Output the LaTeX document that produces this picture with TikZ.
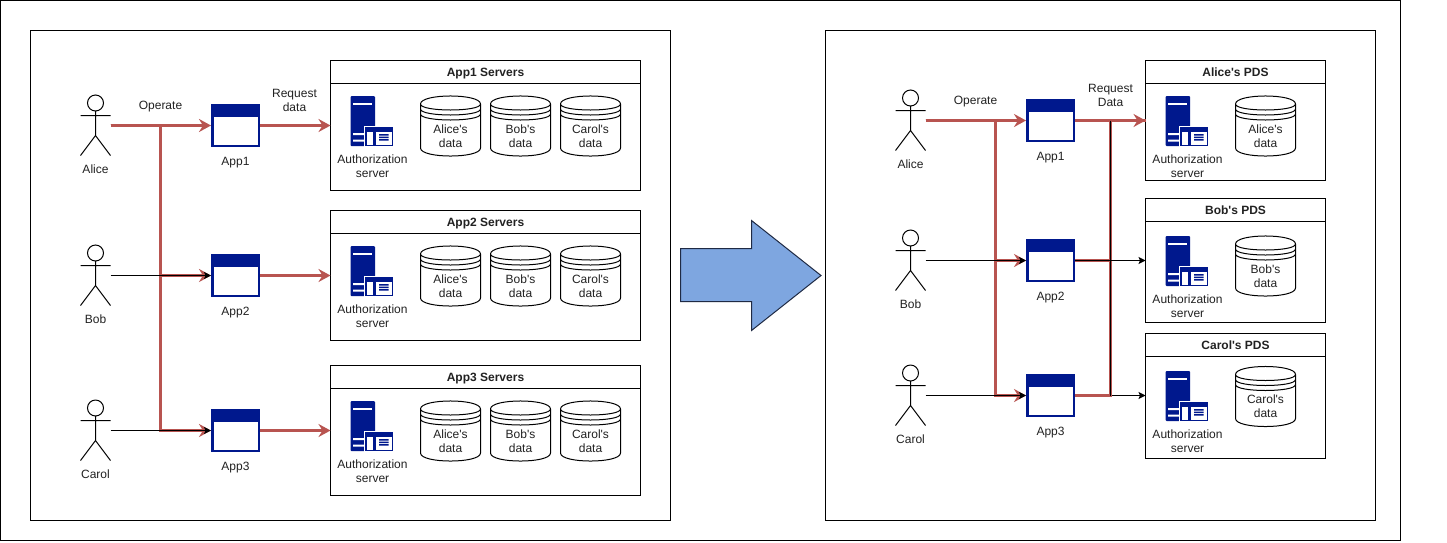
\documentclass[tikz,border=0pt]{standalone}
\usepackage{fontspec}
\setmainfont[Ligatures=TeXOff]{Liberation Sans}
\usetikzlibrary{arrows.meta}
\definecolor{ublue}{HTML}{00188D}
\definecolor{redl}{HTML}{B85450}
\definecolor{txt}{HTML}{222222}
\definecolor{arrowfill}{HTML}{7EA6E0}
\definecolor{arrowline}{HTML}{1F2A44}
\tikzset{
  x=1pt,y=-1pt,
  lbl/.style={font=\fontsize{12}{14}\selectfont,text=txt,align=center,inner sep=0pt,outer sep=0pt},
  one/.style={lbl,text height=9pt,text depth=3pt},
  ttl/.style={font=\bfseries\fontsize{12}{14}\selectfont,text=txt,align=center,inner sep=0pt,outer sep=0pt,text height=9pt,text depth=3pt},
  frame/.style={draw=black,line width=1pt,fill=white,inner sep=0pt,outer sep=0pt},
  ghost/.style={inner sep=0pt,outer sep=0pt},
  appbox/.style={fill=ublue,inner sep=0pt,outer sep=0pt,minimum width=49pt,minimum height=43pt},
  rededge/.style={draw=redl,line width=2.3pt,-{Stealth[length=12pt,width=13pt,inset=4pt]}},
  redbare/.style={draw=redl,line width=2.3pt},
  redthick/.style={draw=redl,line width=2.8pt},
  blkedge/.style={draw=black,line width=1pt,-{Stealth[length=7pt,width=7pt,inset=1.5pt]}},
}
% actor: name, x0, y0, label
\newcommand{\myactor}[4]{%
  \node[ghost,minimum width=30pt,minimum height=60pt] (#1) at (#2+15,#3+30) {};
  \draw[line width=1pt,shift={(#2,#3)}] (15,7.5) circle[radius=8] (15,15.5) -- (15,40) (0,20) -- (30,20) (0,60) -- (15,40) -- (30,60);
  \node[lbl] (#1l) at (#2+15,#3+74) {#4};
}
% application window: name, x0, y0, label
\newcommand{\myapp}[4]{%
  \node[appbox] (#1) at (#2+24.5,#3+21.5) {};
  \fill[white,shift={(#2,#3)}] (2.5,12.5) rectangle (46.5,40.5);
  \node[one] (#1l) at (#2+24.5,#3+58.7) {#4};
}
% server icon: name, x0, y0
\newcommand{\myicon}[3]{%
  \begin{scope}[shift={(#2,#3)}]
    \fill[ublue,rounded corners=1pt] (0.5,0.5) rectangle (25,50.5);
    \fill[white] (3,7) rectangle (22,9);
    \fill[white] (3,37.5) rectangle (14,39.5) (3,44) rectangle (14,46);
    \fill[white] (13.5,30) rectangle (44,51.5);
    \fill[ublue] (14.5,31) rectangle (43,50.5);
    \fill[white] (16.5,36.5) rectangle (41.5,49);
    \fill[ublue] (23,36.5) rectangle (25.5,49);
    \fill[ublue] (29,38.5) rectangle (38.5,40) (29,41) rectangle (38.5,42.5) (29,43.5) rectangle (38.5,45);
  \end{scope}
  \node[lbl] (#1l) at (#2+22.5,#3+70.5) {Authorization\\server};
}
% data store: name, x0, y0, text
\newcommand{\mycyl}[4]{%
  \draw[line width=1pt,fill=white,shift={(#2,#3)}]
    (0,8) .. controls (0,-2.7) and (60,-2.7) .. (60,8) -- (60,52)
    .. controls (60,62.7) and (0,62.7) .. (0,52) -- cycle
    (0,8) .. controls (0,16) and (60,16) .. (60,8)
    (0,13) .. controls (0,21) and (60,21) .. (60,13)
    (0,18) .. controls (0,26) and (60,26) .. (60,18);
  \node[lbl] (#1) at (#2+30,#3+40) {#4};
}
% server box: name, x1, y1, x2, y2, title
\newcommand{\mybox}[6]{%
  \draw[frame] (#2,#3) rectangle (#4,#5);
  \node[ghost,minimum width=#4pt-#2pt,minimum height=#5pt-#3pt] (#1) at ({(#2+#4)/2},{(#3+#5)/2}) {};
  \draw[line width=1pt] (#2,#3+23) -- (#4,#3+23);
  \node[ttl] (#1t) at ({(#2+#4)/2},#3+13) {#6};
}
\newcommand{\threecyl}[2]{%
  \mycyl{#1a}{420.5}{#2}{Alice's\\data}
  \mycyl{#1b}{490.5}{#2}{Bob's\\data}
  \mycyl{#1c}{560.5}{#2}{Carol's\\data}
}
\begin{document}
\begin{tikzpicture}
\useasboundingbox (0,0) rectangle (1447,542);
\fill[white] (0,0) rectangle (1447,542);
\node[ghost,draw=black,line width=1pt,minimum width=1400pt,minimum height=540pt] (outer) at (700.5,270.5) {};
\node[ghost,draw=black,line width=1pt,minimum width=640pt,minimum height=490pt] (panelL) at (350.5,275.5) {};
\node[ghost,draw=black,line width=1pt,minimum width=550pt,minimum height=490pt] (panelR) at (1100.5,275.5) {};

% ---------- left panel
\mybox{sa}{330.5}{60.5}{640.5}{190.5}{App1 Servers}
\mybox{sb}{330.5}{210.5}{640.5}{340.5}{App2 Servers}
\mybox{sc}{330.5}{365.5}{640.5}{495.5}{App3 Servers}
\myicon{ia}{350}{95.5}\threecyl{ca}{96}
\myicon{ib}{350}{245.5}\threecyl{cb}{246}
\myicon{ic}{350}{400.5}\threecyl{cc}{401}

\myactor{alice}{80.5}{95.5}{Alice}
\myactor{bob}{80.5}{245.5}{Bob}
\myactor{carol}{80.5}{400.5}{Carol}
\myapp{appa}{211}{104}{App1}
\myapp{appb}{211}{254}{App2}
\myapp{appc}{211}{409}{App3}
\node[one] (opL) at (160.5,106.7) {Operate};
\node[lbl] (reqL) at (294.5,100.5) {Request\\data};

\coordinate (busL) at (160.5,125.5);
\draw[rededge] (alice.east) -- (appa.west);
\draw[rededge] (alice.east) -- (busL) |- (appb.west);
\draw[rededge] (alice.east) -- (busL) |- (appc.west);
\draw[redthick] (alice.east) -- (busL);
\draw[rededge] (appa.east) -- (appa.east -| sa.west);
\draw[rededge] (appb.east) -- (appb.east -| sb.west);
\draw[rededge] (appc.east) -- (appc.east -| sc.west);
\draw[blkedge] (bob.east) -- (appb.west);
\draw[blkedge] (carol.east) -- (appc.west);

% ---------- big arrow
\node[ghost,minimum width=140pt,minimum height=112pt] (bigarrow) at (751,276) {};
\draw[draw=arrowline,fill=arrowfill,line width=1pt] (680.5,248.5) -- (751.5,248.5) -- (751.5,220.5) -- (821,275.5) -- (751.5,330.5) -- (751.5,301.5) -- (680.5,301.5) -- cycle;

% ---------- right panel
\mybox{pa}{1145.5}{60.5}{1325.5}{180.5}{Alice's PDS}
\mybox{pb}{1145.5}{198.5}{1325.5}{322.5}{Bob's PDS}
\mybox{pc}{1145.5}{333.5}{1325.5}{458.5}{Carol's PDS}
\myicon{ja}{1165}{95.5}\mycyl{da}{1235.5}{96}{Alice's\\data}
\myicon{jb}{1165}{235.5}\mycyl{db}{1235.5}{236}{Bob's\\data}
\myicon{jc}{1165}{370.5}\mycyl{dc}{1235.5}{366.5}{Carol's\\data}

\myactor{alicer}{895.5}{90.5}{Alice}
\myactor{bobr}{895.5}{230.5}{Bob}
\myactor{carolr}{895.5}{365.5}{Carol}
\myapp{appra}{1026}{99}{App1}
\myapp{apprb}{1026}{239}{App2}
\myapp{apprc}{1026}{374}{App3}
\node[one] (opR) at (975.5,101.7) {Operate};
\node[lbl] (reqR) at (1110.5,95.5) {Request\\Data};

\coordinate (busR) at (995.5,120.5);
\coordinate (busRa) at (965.5,120.5);
\coordinate (busS) at (1110.5,120.5);
\draw[blkedge] (apprc.east) -- (apprc.east -| pc.west);
\draw[rededge] (alicer.east) -- (appra.west);
\draw[rededge] (alicer.east) -- (busR) |- (apprb.west);
\draw[rededge] (alicer.east) -- (busR) |- (apprc.west);
\draw[redthick] (busRa) -- (busR);
\draw[rededge] (appra.east) -- (appra.east -| pa.west);
\draw[redbare] (apprb.east) -| (busS);
\draw[redbare] (apprc.east) -| (busS);
\draw[redthick] (busS) -- (busS -| pa.west);
\draw[blkedge] (apprb.east) -- (apprb.east -| pb.west);
\draw[blkedge] (bobr.east) -- (apprb.west);
\draw[blkedge] (carolr.east) -- (apprc.west);
\draw[black,line width=1pt] (busS) -- (busS |- apprc.east);
\end{tikzpicture}
\end{document}
